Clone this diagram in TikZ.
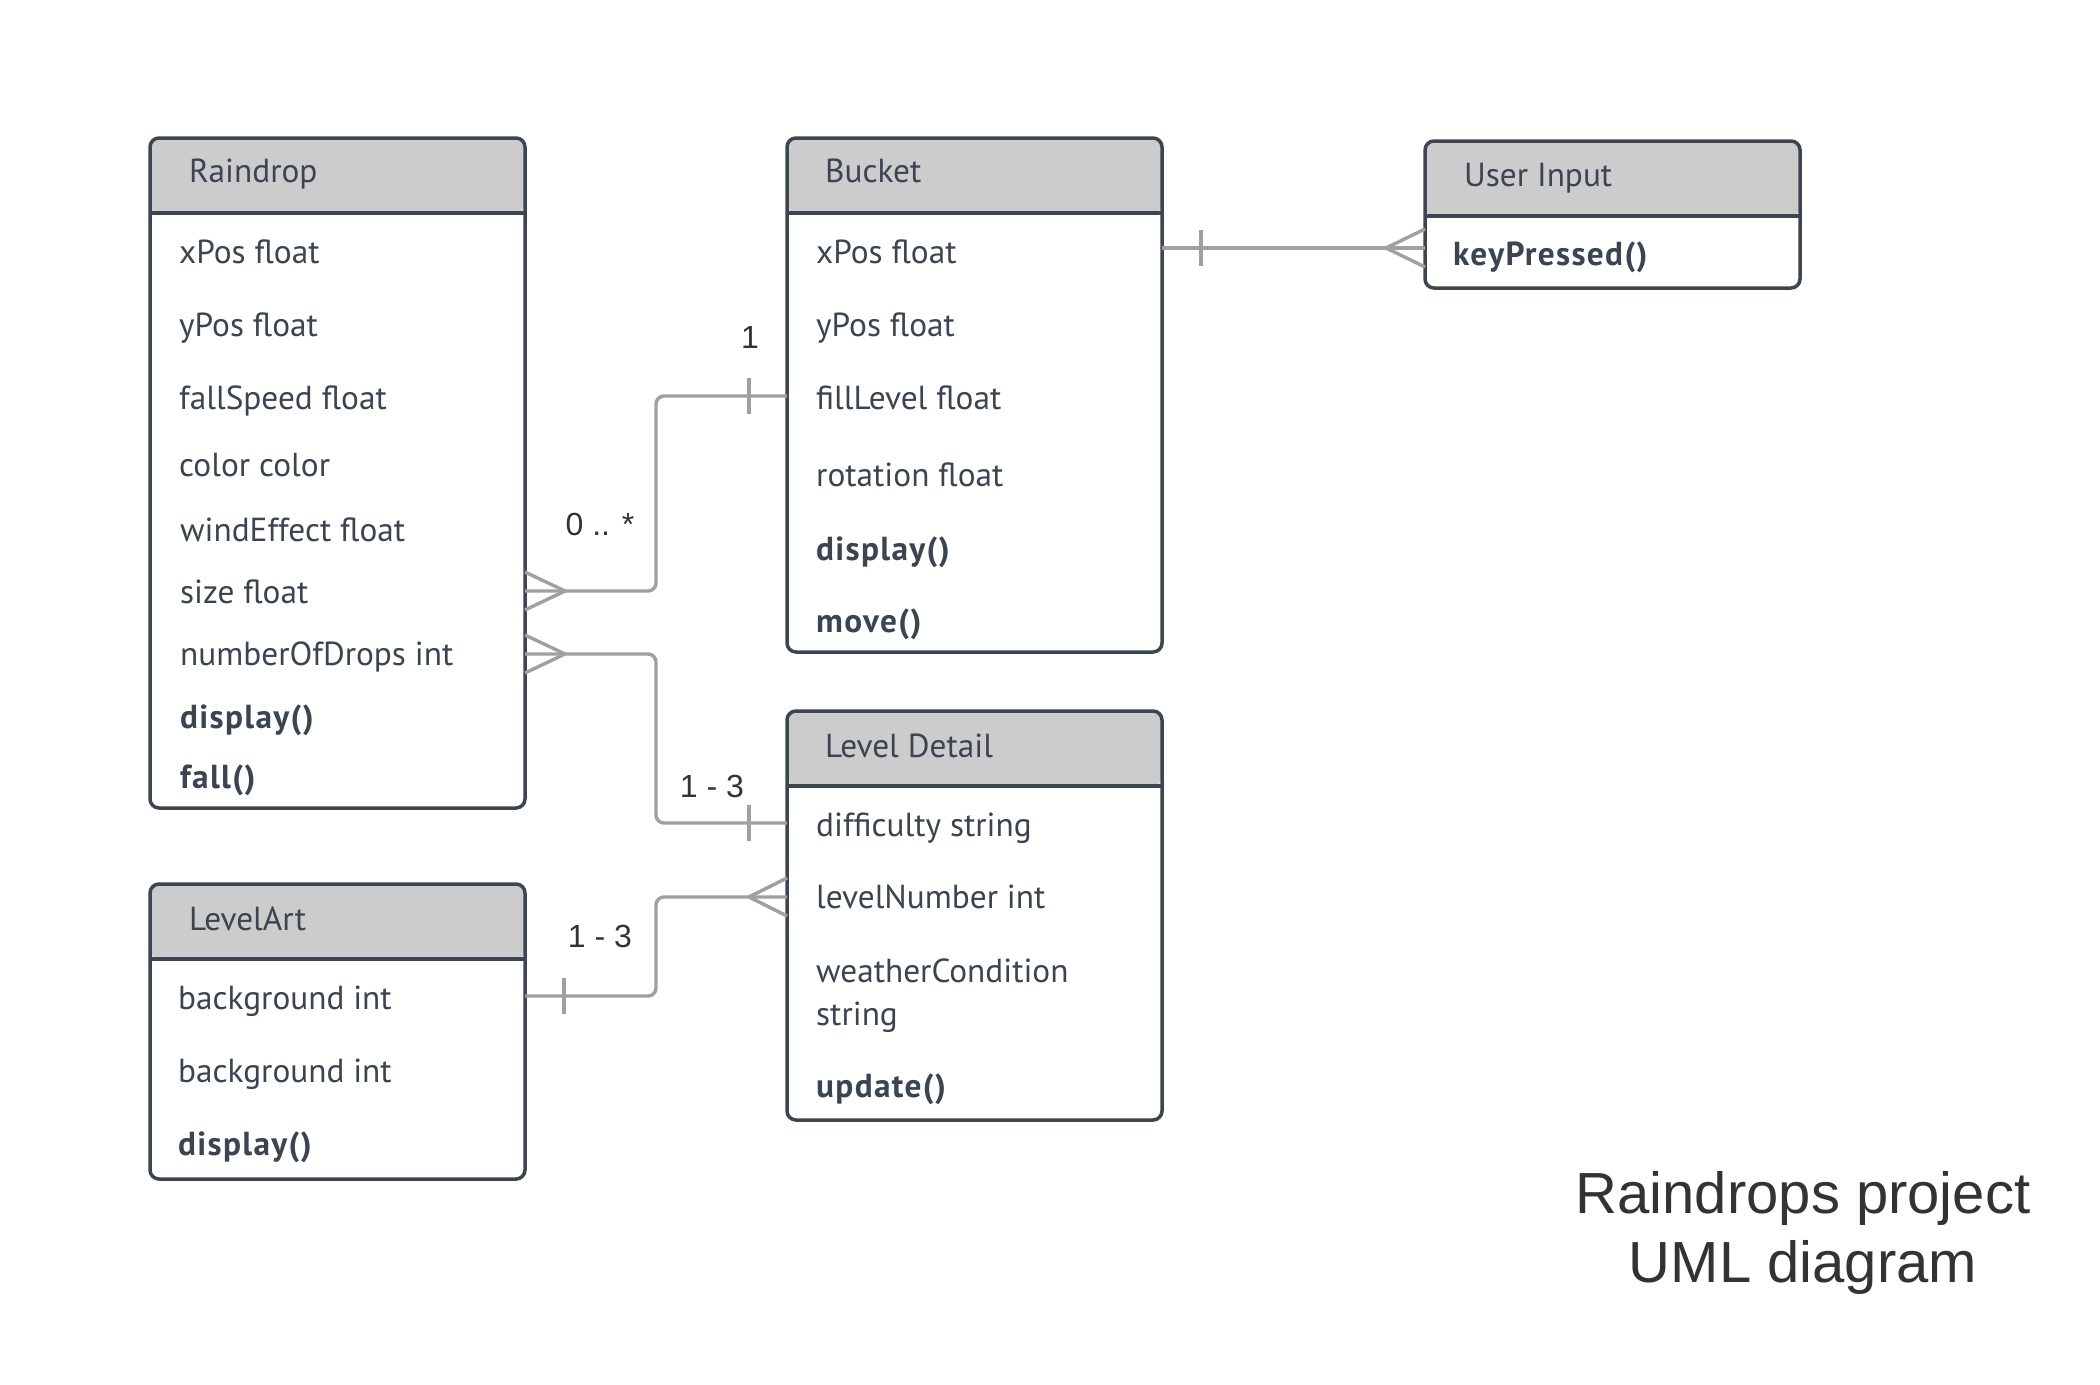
\documentclass[tikz,border=0pt]{standalone}
\usepackage{fontspec}
\setmainfont{PT Sans}
\newfontfamily\methfamily[LetterSpace=4]{PT Sans}
\newfontfamily\labfont{Liberation Sans}
\definecolor{bordercol}{HTML}{3D4650}
\definecolor{hdrcol}{HTML}{CCCCCC}
\definecolor{textcol}{HTML}{3B4451}
\definecolor{conncol}{HTML}{A0A0A0}
\definecolor{titlecol}{HTML}{333333}
\newcommand{\attrfont}{\fontsize{33.3}{40}\selectfont}
\newcommand{\methfont}{\methfamily\bfseries\fontsize{33.3}{40}\selectfont}
\newcommand{\lblfont}{\labfont\fontsize{32}{38}\selectfont}
\newcommand{\ttlfont}{\labfont\fontsize{58}{70}\selectfont}
\tikzset{
  umlbox/.style={draw=bordercol, line width=3.5pt, rounded corners=9pt, anchor=north west,
    minimum width=375pt, inner sep=0pt, outer sep=0pt,
    path picture={\fill[hdrcol] (path picture bounding box.north west) rectangle ([yshift=-75pt]path picture bounding box.north east);
      \draw[bordercol, line width=3.5pt] ([yshift=-75pt]path picture bounding box.north west) -- ([yshift=-75pt]path picture bounding box.north east);}},
  attr/.style={font=\attrfont, text=textcol, inner sep=0pt, anchor=base west},
  meth/.style={font=\methfont, text=textcol, inner sep=0pt, anchor=base west},
  conn/.style={draw=conncol, line width=3.4pt, rounded corners=8pt},
  foot/.style={draw=conncol, line width=3.4pt},
  mult/.style={font=\lblfont, text=titlecol, inner sep=0pt, anchor=base},
  ttl/.style={font=\ttlfont, text=titlecol, inner sep=0pt, anchor=base}
}
\begin{document}
\begin{tikzpicture}[x=1pt, y=-1pt]
\useasboundingbox[fill=white] (0,0) rectangle (2100,1384);

% boxes
\node[umlbox, minimum height=670pt] (rd) at (150,138) {};
\node[umlbox, minimum height=514pt] (bk) at (787,138) {};
\node[umlbox, minimum height=147pt] (ui) at (1425,141) {};
\node[umlbox, minimum height=409pt] (ld) at (787,711) {};
\node[umlbox, minimum height=295pt] (la) at (150,884) {};

% Raindrop
\node[attr] (rdt) at (189,182) {Raindrop};
\node[attr] (rd1) at (179,263) {xPos float};
\node[attr] (rd2) at (179,336) {yPos float};
\node[attr] (rd3) at (179,409) {fallSpeed float};
\node[attr] (rd4) at (179,476) {color color};
\node[attr] (rd5) at (180,541) {windEffect float};
\node[attr] (rd6) at (180,603) {size float};
\node[attr] (rd7) at (180,665) {numberOfDrops int};
\node[meth] (rd8) at (180,728) {display()};
\node[meth] (rd9) at (180,788) {fall()};

% Bucket
\node[attr] (bkt) at (825,182) {Bucket};
\node[attr] (bk1) at (816,263) {xPos float};
\node[attr] (bk2) at (816,336) {yPos float};
\node[attr] (bk3) at (816,409) {fillLevel float};
\node[attr] (bk4) at (816,486) {rotation float};
\node[meth] (bk5) at (816,560) {display()};
\node[meth] (bk6) at (816,632) {move()};

% User Input
\node[attr] (uit) at (1464,186) {User Input};
\node[meth] (ui1) at (1453,265) {keyPressed()};

% Level Detail
\node[attr] (ldt) at (825,757) {Level Detail};
\node[attr] (ld1) at (816,836) {difficulty string};
\node[attr] (ld2) at (816,908) {levelNumber int};
\node[attr] (ld3) at (816,982) {weatherCondition};
\node[attr] (ld4) at (816,1025) {string};
\node[meth] (ld5) at (816,1097) {update()};

% LevelArt
\node[attr] (lat) at (189,930) {LevelArt};
\node[attr] (la1) at (178,1009) {background int};
\node[attr] (la2) at (178,1082) {background int};
\node[meth] (la3) at (178,1155) {display()};

% connector end points
\coordinate (c1a) at ([yshift=-453pt]rd.north east);
\coordinate (c1b) at ([yshift=-258pt]bk.north west);
\coordinate (c2a) at ([yshift=-516pt]rd.north east);
\coordinate (c2b) at ([yshift=-112pt]ld.north west);
\coordinate (c3a) at ([yshift=-112pt]la.north east);
\coordinate (c3b) at ([yshift=-186pt]ld.north west);
\coordinate (c4a) at ([yshift=-110pt]bk.north east);
\coordinate (c4b) at ([yshift=-107pt]ui.north west);

% connector 1: Raindrop -- Bucket
\draw[conn] (c1a) -- ++(131,0) |- (c1b);
\draw[foot] ([yshift=19pt]c1a) -- ++(40,19) -- ([yshift=-19pt]c1a);
\draw[foot] ([xshift=-38pt,yshift=18pt]c1b) -- ([xshift=-38pt,yshift=-18pt]c1b);
% connector 2: Raindrop -- Level Detail
\draw[conn] (c2a) -- ++(131,0) |- (c2b);
\draw[foot] ([yshift=19pt]c2a) -- ++(40,19) -- ([yshift=-19pt]c2a);
\draw[foot] ([xshift=-38pt,yshift=18pt]c2b) -- ([xshift=-38pt,yshift=-18pt]c2b);
% connector 3: LevelArt -- Level Detail
\draw[conn] (c3a) -- ++(131,0) |- (c3b);
\draw[foot] ([xshift=39pt,yshift=18pt]c3a) -- ([xshift=39pt,yshift=-18pt]c3a);
\draw[foot] ([yshift=19pt]c3b) -- ++(-38,19) -- ([yshift=-19pt]c3b);
% connector 4: Bucket -- User Input
\draw[conn] (c4a) -- (c4b);
\draw[foot] ([xshift=39pt,yshift=18pt]c4a) -- ([xshift=39pt,yshift=-18pt]c4a);
\draw[foot] ([yshift=19pt]c4b) -- ++(-39,19) -- ([yshift=-19pt]c4b);

% multiplicities
\node[mult] (m1) at (750,348) {1};
\node[mult] (m2) at (600,535) {0 .. *};
\node[mult] (m3) at (712,797) {1 - 3};
\node[mult] (m4) at (600,947) {1 - 3};

% title
\node[ttl] (t1) at (1803,1213) {Raindrops project};
\node[ttl] (t2) at (1803,1282) {UML diagram};
\end{tikzpicture}
\end{document}
